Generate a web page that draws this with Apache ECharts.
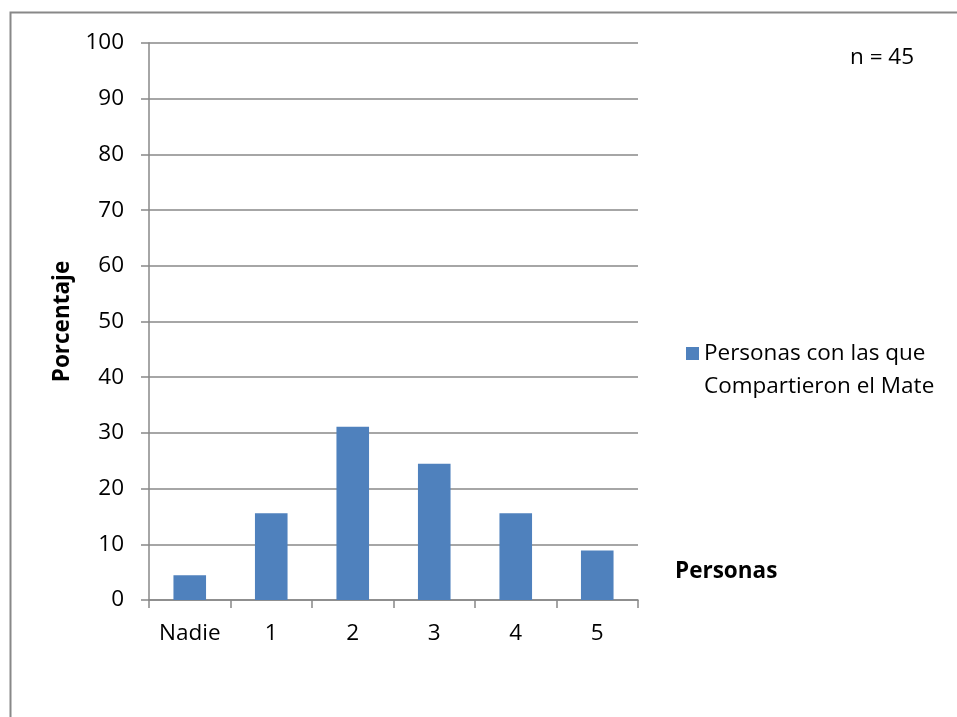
<!DOCTYPE html>
<html>
<head>
<meta charset="utf-8">
<script src="https://cdn.jsdelivr.net/npm/echarts@6/dist/echarts.min.js"></script>
<style>
  html, body { margin: 0; padding: 0; background: #fff; overflow: hidden; }
  #main { width: 957px; height: 717px; }
</style>
</head>
<body>
<div id="main"></div>
<script>
// categorias y porcentajes (n = 45)
const categories = ['Nadie', '1', '2', '3', '4', '5'];
const porcentajes = [4.44, 15.56, 31.11, 24.44, 15.56, 8.89];
const serieNombre = 'Personas con las que\nCompartieron el Mate';

const fuente = 'Open Sans';
const gris = '#888888';
const tam = 22.5;

var myChart = echarts.init(document.getElementById('main'));
var option = {
    animation: false,
    backgroundColor: '#fff',
    textStyle: { fontFamily: fuente, color: '#000' },
    title: {
        text: 'n = 45',
        left: 845,
        top: 41,
        textStyle: { fontFamily: fuente, fontSize: tam, fontWeight: 'normal', color: '#000' }
    },
    legend: {
        data: [serieNombre],
        left: 681,
        top: 299,
        orient: 'vertical',
        itemWidth: 13,
        itemHeight: 13,
        icon: 'rect',
        itemGap: 8,
        //truco: linea vacia arriba para que el cuadro quede en la primera linea
        formatter: function (name) { return '\n' + name; },
        textStyle: { fontFamily: fuente, fontSize: tam, color: '#000', lineHeight: 33 }
    },
    grid: {
        left: 149,
        right: 319,
        top: 43,
        bottom: 117,
        containLabel: false
    },
    xAxis: {
        type: 'category',
        data: categories,
        name: 'Personas',
        nameLocation: 'end',
        nameGap: 37,
        nameTextStyle: {
            fontFamily: fuente, fontSize: tam, fontWeight: 'bold', color: '#000',
            align: 'left', verticalAlign: 'bottom', padding: [0, 0, 17, 0]
        },
        axisLine: { lineStyle: { color: gris, width: 1.5 } },
        axisTick: { show: true, interval: 0, length: 8, alignWithLabel: false, lineStyle: { color: gris, width: 1.5 } },
        axisLabel: { interval: 0, margin: 22, fontFamily: fuente, fontSize: tam, color: '#000' }
    },
    yAxis: {
        type: 'value',
        min: 0,
        max: 100,
        interval: 10,
        name: 'Porcentaje',
        nameLocation: 'middle',
        nameRotate: 90,
        nameGap: 74,
        nameTextStyle: { fontFamily: fuente, fontSize: tam, fontWeight: 'bold', color: '#000' },
        axisLine: { show: true, lineStyle: { color: gris, width: 1.5 } },
        axisTick: { show: true, length: 8, lineStyle: { color: gris, width: 1.5 } },
        axisLabel: { margin: 25, fontFamily: fuente, fontSize: tam, color: '#000' },
        splitLine: { show: true, lineStyle: { color: gris, width: 1.5 } }
    },
    series: [
        {
            name: serieNombre,
            type: 'bar',
            data: porcentajes,
            barWidth: '40%',
            itemStyle: { color: '#4F81BD' }
        }
    ],
    graphic: [
        {
            type: 'polyline',
            shape: { points: [[10.5, 717], [10.5, 12.5], [957, 12.5]] },
            style: { fill: null, stroke: gris, lineWidth: 2 },
            silent: true
        }
    ]
};
myChart.setOption(option);
</script>
</body>
</html>
